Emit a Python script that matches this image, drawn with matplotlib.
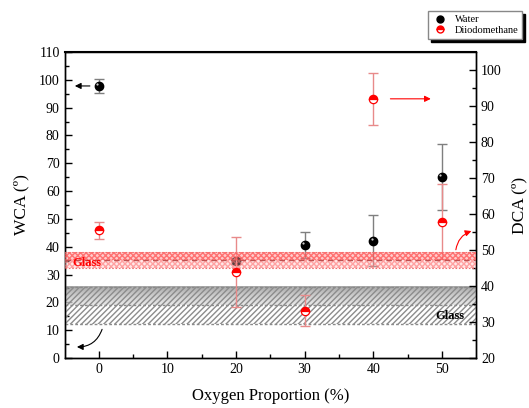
import numpy as np
import matplotlib
matplotlib.use("Agg")
import matplotlib.pyplot as plt
from matplotlib.lines import Line2D
from matplotlib.transforms import offset_copy

plt.rcParams['font.family'] = ['Liberation Serif', 'DejaVu Serif']

# data
oxygen = [0, 20, 30, 40, 50]
wca = [97.8, 34.9, 40.6, 42.1, 65.2]
wca_err = [2.5, 1.0, 4.6, 9.2, 11.9]
dca = [55.5, 43.8, 33.2, 92.0, 57.9]
dca_err = [2.3, 9.7, 4.2, 7.2, 10.4]

glass_wca = 18.9       # grey band, left axis
glass_wca_err = 6.5
glass_dca = 47.2       # red band, right axis
glass_dca_err = 2.2

xlim = (-5, 55)

fig = plt.figure(figsize=(5.29, 4.08), dpi=100)
ax = fig.add_axes([0.122, 0.1225, 0.778, 0.75])
ax2 = ax.twinx()

# water (left axis)
ax.errorbar(oxygen, wca, yerr=wca_err, fmt='none', ecolor='#7f7f7f',
            elinewidth=1, capsize=3.5, capthick=1, zorder=2)
ax.plot(oxygen, wca, 'o', color='black', ms=6, zorder=2)
# small highlight on the spheres
glint = offset_copy(ax.transData, fig=fig, x=-1.2, y=1.2, units='points')
ax.plot(oxygen, wca, 'o', color='white', ms=1.6, mew=0, alpha=0.8,
        transform=glint, zorder=2)

# grey glass band (water)
xs = np.array(xlim)
grad = np.linspace(0.35, 0.85, 50).reshape(-1, 1)
ax.imshow(grad, extent=[xlim[0], xlim[1], glass_wca, glass_wca + glass_wca_err],
          aspect='auto', cmap='Greys', vmin=0, vmax=1.6, alpha=0.75,
          origin='lower', zorder=3)
ax.fill_between(xs, glass_wca - glass_wca_err, glass_wca + glass_wca_err,
                facecolor='none', edgecolor='#8c8c8c', hatch='//////',
                linewidth=0, zorder=3)
for yy in (glass_wca - glass_wca_err, glass_wca, glass_wca + glass_wca_err):
    ax.axhline(yy, color='#8a8a8a', ls=(0, (2, 1.5)), lw=1, zorder=3)

ax.set_xlim(*xlim)
ax.set_ylim(0, 110)

# diiodomethane (right axis)
ax2.errorbar(oxygen, dca, yerr=dca_err, fmt='none', ecolor='#e88a8a',
             elinewidth=1, capsize=3.5, capthick=1, zorder=2)
ax2.plot(oxygen, dca, 'o', ms=6, color='red', fillstyle='top',
         markerfacecoloralt='white', markeredgecolor='red', mew=0.9, zorder=4)

# red glass band
ax2.fill_between(xs, glass_dca, glass_dca + glass_dca_err,
                 facecolor=(1, 0.55, 0.55, 0.45), edgecolor=(1, 0.3, 0.3, 0.7),
                 hatch='xxxxxx', linewidth=0, zorder=3)
ax2.fill_between(xs, glass_dca - glass_dca_err, glass_dca,
                 facecolor=(1, 0.75, 0.75, 0.35), edgecolor=(1, 0.45, 0.45, 0.6),
                 hatch='xxxxxx', linewidth=0, zorder=3)
ax2.axhline(glass_dca, color='#c05050', ls=(0, (4, 3)), lw=1, zorder=3)
for yy in (glass_dca - glass_dca_err, glass_dca + glass_dca_err):
    ax2.axhline(yy, color='#f07070', ls=(0, (1.5, 1.5)), lw=0.8, zorder=3)
ax2.set_ylim(20, 105)

# labels on bands
ax2.text(-3.8, 46.4, 'Glass', color='red', fontsize=9, fontweight='bold',
         va='center', ha='left', zorder=5)
ax2.text(49.0, 31.6, 'Glass', color='black', fontsize=9, fontweight='bold',
         va='center', ha='left', zorder=5)

# arrows
ax.annotate('', xy=(-3.9, 97.8), xytext=(-0.9, 97.8),
            arrowprops=dict(arrowstyle='-|>', color='black', lw=0.8,
                            mutation_scale=9))
ax2.annotate('', xy=(48.8, 92.0), xytext=(42.1, 92.0),
             arrowprops=dict(arrowstyle='-|>', color='red', lw=0.8,
                             mutation_scale=9))
ax2.annotate('', xy=(-3.6, 23.1), xytext=(0.6, 28.7),
             arrowprops=dict(arrowstyle='-|>', color='black', lw=0.8,
                             mutation_scale=9,
                             connectionstyle='arc3,rad=-0.4'))
ax2.annotate('', xy=(54.7, 55.5), xytext=(52.0, 49.3),
             arrowprops=dict(arrowstyle='-|>', color='red', lw=0.8,
                             mutation_scale=9,
                             connectionstyle='arc3,rad=-0.35'))

# ticks
ax.set_xticks([0, 10, 20, 30, 40, 50])
ax.set_xticks([5, 15, 25, 35, 45], minor=True)
ax.set_yticks(np.arange(0, 111, 10))
ax.set_yticks(np.arange(5, 110, 10), minor=True)
ax2.set_yticks(np.arange(20, 101, 10))
ax2.set_yticks(np.arange(25, 105, 10), minor=True)
for a in (ax, ax2):
    a.tick_params(direction='in', which='major', length=5, width=1,
                  labelsize=10, top=False)
    a.tick_params(direction='in', which='minor', length=3, width=1, top=False)
ax.tick_params(right=False, which='both')
for a in (ax, ax2):
    for sp in a.spines.values():
        sp.set_linewidth(1.0)
ax2.spines['top'].set_linewidth(1.5)

ax.set_xlabel('Oxygen Proportion (%)', fontsize=12, labelpad=9)
ax.set_ylabel('WCA (º)', fontsize=12.5, labelpad=7)
ax2.set_ylabel('DCA (º)', fontsize=12.5, rotation=90, labelpad=7)

# legend
handles = [
    Line2D([], [], ls='none', marker='o', color='black', ms=5),
    Line2D([], [], ls='none', marker='o', ms=5, color='red', fillstyle='top',
           markerfacecoloralt='white', markeredgecolor='red'),
]
fig.legend(handles, ['Water', 'Diiodomethane'], loc='upper right',
           bbox_to_anchor=(0.997, 0.985), fontsize=7.5, frameon=True,
           fancybox=False, edgecolor='#888888', framealpha=1,
           shadow={'facecolor': 'black', 'edgecolor': 'black', 'alpha': 1},
           handletextpad=0.6, borderpad=0.35, labelspacing=0.15,
           handlelength=1.6)

fig.savefig('out.png', dpi=100)
